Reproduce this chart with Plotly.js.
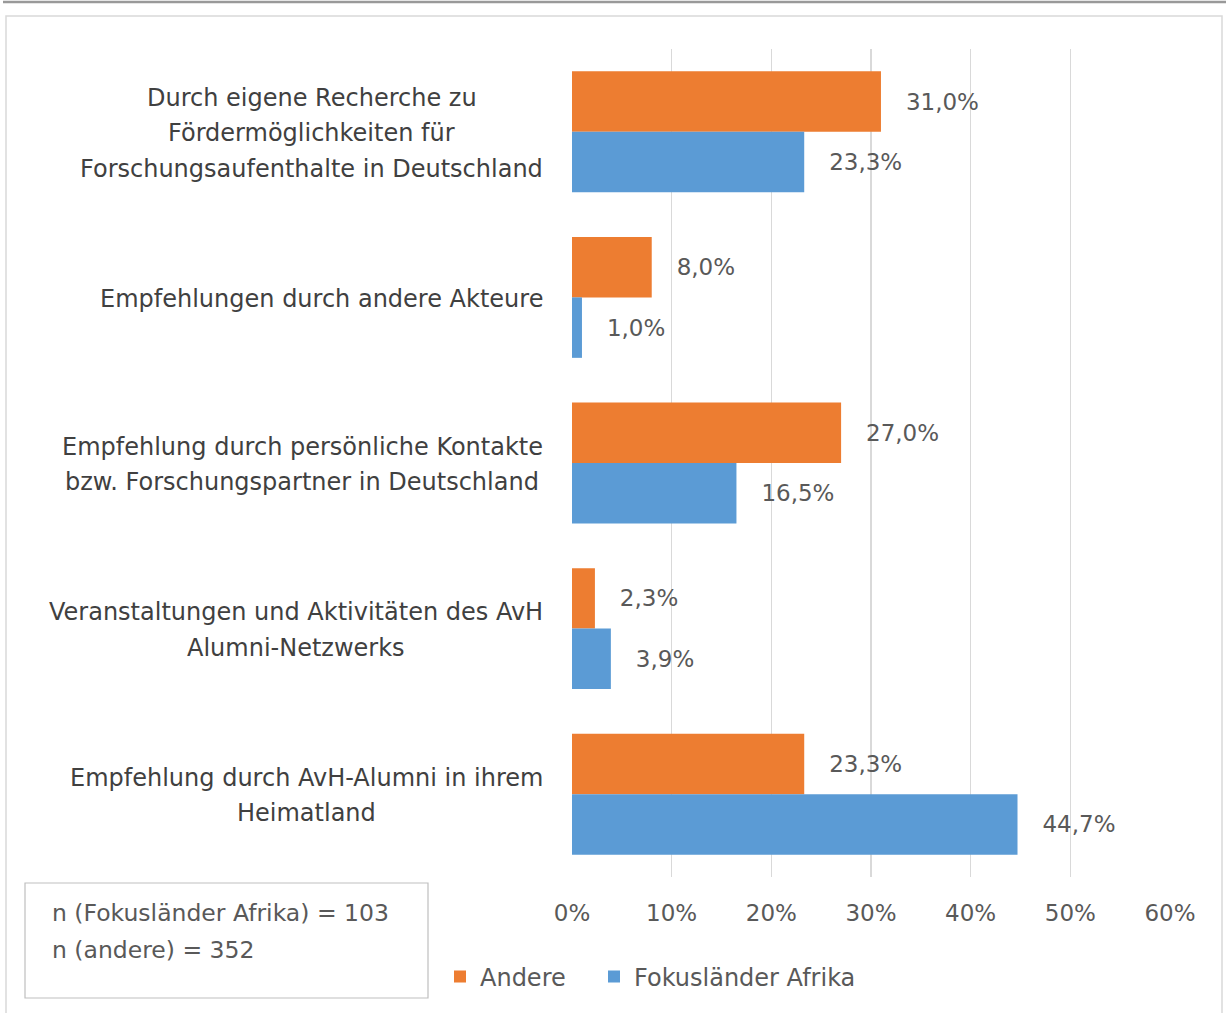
<!DOCTYPE html>
<html>
<head>
<meta charset="utf-8">
<script src="https://cdn.plot.ly/plotly-3.0.1.min.js"></script>
<style>html,body{margin:0;padding:0;background:#fff;}#chart{width:1230px;height:1013px;}</style>
</head>
<body>
<div id="chart"></div>
<script>
// ---- data ----
const categories = [
  "Durch eigene Recherche zu<br>Fördermöglichkeiten für<br>Forschungsaufenthalte in Deutschland",
  "Empfehlungen durch andere Akteure",
  "Empfehlung durch persönliche Kontakte<br>bzw. Forschungspartner in Deutschland",
  "Veranstaltungen und Aktivitäten des AvH<br>Alumni-Netzwerks",
  "Empfehlung durch AvH-Alumni in ihrem<br>Heimatland"
];
const andere = [0.310, 0.080, 0.270, 0.023, 0.233];
const fokus = [0.233, 0.010, 0.165, 0.039, 0.447];
const seriesNames = ["Andere", "Fokusländer Afrika"];
const noteLines = ["n (Fokusländer Afrika) = 103", "n (andere) = 352"];

// ---- geometry helpers ----
const W = 1230, H = 1013;
const M = {l: 572, r: 60, t: 49, b: 136};
const pw = W - M.l - M.r, ph = H - M.t - M.b;
const px2x = p => (p - M.l) / pw;
const px2y = p => (H - M.b - p) / ph;

const FONT = "DejaVu Sans, Verdana, sans-serif";
const LABEL_SIZE = 24;
const pad = "\u00a0\u00a0\u00a0";

// measure text width for centering wrapped labels in a right-aligned block
const ctx = document.createElement("canvas").getContext("2d");
ctx.font = LABEL_SIZE + "px 'DejaVu Sans'";
const tw = s => ctx.measureText(s).width;

const traces = [
  {type: "bar", orientation: "h", name: seriesNames[0], y: categories, x: andere, legend: "legend",
   marker: {color: "#ED7D31"}, texttemplate: pad + "%{x:.1%}", textposition: "outside",
   textfont: {size: 23, color: "#595959", family: FONT}, cliponaxis: false, hoverinfo: "x"},
  {type: "bar", orientation: "h", name: seriesNames[1], y: categories, x: fokus, legend: "legend2",
   marker: {color: "#5B9BD5"}, texttemplate: pad + "%{x:.1%}", textposition: "outside",
   textfont: {size: 23, color: "#595959", family: FONT}, cliponaxis: false, hoverinfo: "x"}
];

const annotations = [];
const LINE_H = 35.5;
const RIGHT_EDGE = 543;
categories.forEach(c => {
  const lines = c.split("<br>");
  const blockW = Math.max(...lines.map(tw));
  const cx = RIGHT_EDGE - blockW / 2;
  lines.forEach((ln, i) => {
    annotations.push({
      xref: "paper", yref: "y", x: px2x(cx), y: c, xanchor: "center", yanchor: "middle",
      yshift: -(i - (lines.length - 1) / 2) * LINE_H - 1.5,
      text: ln, showarrow: false,
      font: {size: LABEL_SIZE, color: "#404040", family: FONT}
    });
  });
});
noteLines.forEach((ln, i) => {
  annotations.push({
    xref: "paper", yref: "paper", x: px2x(50), y: px2y(913 + 37 * i), xanchor: "left", yanchor: "middle",
    text: ln, showarrow: false,
    font: {size: 23.5, color: "#595959", family: FONT}
  });
});

const shapes = [
  {type: "line", xref: "paper", yref: "paper", x0: px2x(3), x1: px2x(1226), y0: px2y(2), y1: px2y(2),
   line: {color: "#999999", width: 2.5}},
  {type: "rect", xref: "paper", yref: "paper", x0: px2x(6), x1: px2x(1222), y0: px2y(16), y1: px2y(1030),
   line: {color: "#d9d9d9", width: 1.5}},
  {type: "rect", xref: "paper", yref: "paper", x0: px2x(25), x1: px2x(428), y0: px2y(883), y1: px2y(998),
   line: {color: "#bfbfbf", width: 1.2}}
];

const legendBase = {orientation: "h", xanchor: "left", yanchor: "middle", y: px2y(977),
  font: {size: 24, color: "#595959", family: FONT}, itemclick: false, bgcolor: "rgba(0,0,0,0)"};

const layout = {
  width: W, height: H, margin: M,
  paper_bgcolor: "#ffffff", plot_bgcolor: "#ffffff",
  separators: ",.",
  barmode: "group", bargap: 0.27, bargroupgap: 0,
  font: {family: FONT, color: "#595959"},
  xaxis: {range: [0, 0.6], dtick: 0.1, tick0: 0, tickformat: ".0%",
          showgrid: true, gridcolor: "#d9d9d9", gridwidth: 1.2, zeroline: false, showline: false,
          ticks: "", tickfont: {size: 23, color: "#595959", family: FONT}, ticklabelstandoff: 20, fixedrange: true},
  yaxis: {autorange: "reversed", showticklabels: false, ticks: "", showgrid: false, zeroline: false,
          showline: false, fixedrange: true},
  showlegend: true,
  legend: Object.assign({}, legendBase, {x: px2x(440)}),
  legend2: Object.assign({}, legendBase, {x: px2x(594)}),
  annotations: annotations,
  shapes: shapes
};

Plotly.newPlot("chart", traces, layout, {displayModeBar: false, staticPlot: true});
</script>
</body>
</html>
